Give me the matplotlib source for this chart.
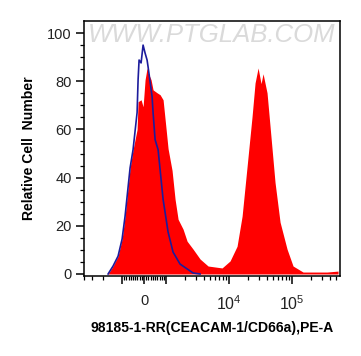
import numpy as np
import matplotlib
matplotlib.use('Agg')
import matplotlib.pyplot as plt

plt.rcParams['font.family'] = ['Liberation Sans', 'DejaVu Sans']
plt.rcParams['mathtext.default'] = 'regular'

# stained sample (red filled histogram), fluorescence vs relative count
red_x = [-1665, -1387, -1156, -997, -862, -726, -635, -500, -317, -272, -136,
         -45, 45, 136, 181, 317, 408, 590, 726, 862, 1000, 1074, 1242, 1387,
         1549, 1858, 2153, 2679, 3459, 4634, 7727, 10350, 13370, 16070, 19280,
         23120, 25820, 28840, 32140, 34590, 39990, 44670, 53580, 64420, 83180,
         103500, 149300, 215300, 358900, 535800]
red_y = [0, 3.3, 7.4, 14.5, 24.0, 36.0, 44.0, 51.6, 60.0, 71.5, 72.3,
         69.4, 80.6, 85.5, 83.5, 80.6, 76.4, 75.2, 74.4, 72.3, 60.0, 52.0,
         43.0, 31.0, 22.7, 18.6, 13.6, 10.3, 6.2, 3.3, 2.5, 5.4, 11.5, 24.0,
         44.6, 65.3, 79.3, 85.5, 79.0, 83.1, 75.2, 61.2, 38.0, 21.5, 10.3,
         3.3, 0.8, 0.8, 0.8, 1.2]

# control (blue outline histogram)
blue_x = [-1665, -1387, -1156, -997, -862, -726, -635, -500, -317, -272, -227,
          -136, -45, 45, 136, 181, 363, 408, 499, 635, 862, 1074, 1288, 1665,
          2153, 2679, 3459]
blue_y = [0, 3.3, 7.4, 14.5, 24.0, 36.0, 44.0, 51.6, 67.0, 80.6, 88.8,
          87.6, 95.0, 91.7, 88.8, 86.0, 73.6, 67.0, 55.8, 51.6, 31.0, 17.4,
          9.1, 4.1, 2.1, 0.4, 0]

major_x = [-1000, 0, 1000, 10000, 100000]
major_labels = ['', '0', '', '$10^4$', '$10^5$']
y_ticks = [0, 20, 40, 60, 80, 100]

fig = plt.figure(figsize=(3.61, 3.56), dpi=100)
ax = fig.add_axes([0.233, 0.225, 0.709, 0.716])

ax.fill_between(red_x, red_y, 0, color='#ff0000', lw=0, zorder=2)
ax.plot(blue_x, blue_y, color='#1c1c9c', lw=1.2, zorder=3)

ax.set_xscale('symlog', linthresh=1000, linscale=0.315)
ax.set_xlim(-4000, 577000)
ax.set_ylim(-0.8, 105)

minor_x = ([-4000, -3000, -2000] + list(range(-900, 1000, 100)) +
           [m * 10 ** k for k in (3, 4) for m in range(2, 10)] +
           [200000, 300000, 400000, 500000])
minor_x = [v for v in minor_x if v != 0]
ax.set_xticks(major_x)
ax.set_xticklabels(major_labels)
ax.set_xticks(minor_x, minor=True)
ax.set_yticks(y_ticks)
ax.set_yticks(np.arange(0, 105, 5), minor=True)

ax.tick_params(axis='both', which='major', direction='out', length=6,
               width=1.1, labelsize=10.5, colors='black', labelcolor='#222222')
ax.tick_params(axis='both', which='minor', direction='out', length=3, width=0.9)
ax.tick_params(axis='x', which='major', pad=7)
ax.tick_params(axis='y', which='major', pad=3)
for lab in ax.get_xticklabels()[3:]:
    lab.set_fontsize(11.5)
for s in ax.spines.values():
    s.set_linewidth(1.1)

ax.set_xlabel('98185-1-RR(CEACAM-1/CD66a),PE-A', fontsize=10.1,
              fontweight='bold', labelpad=6)
ax.set_ylabel('Relative Cell  Number', fontsize=10.1, fontweight='bold',
              labelpad=8)

ax.text(0.5, 0.945, 'WWW.PTGLAB.COM', transform=ax.transAxes, ha='center',
        va='center', fontsize=18.5, color='#dadada', style='italic', zorder=1)

fig.savefig('out.png', dpi=100)
